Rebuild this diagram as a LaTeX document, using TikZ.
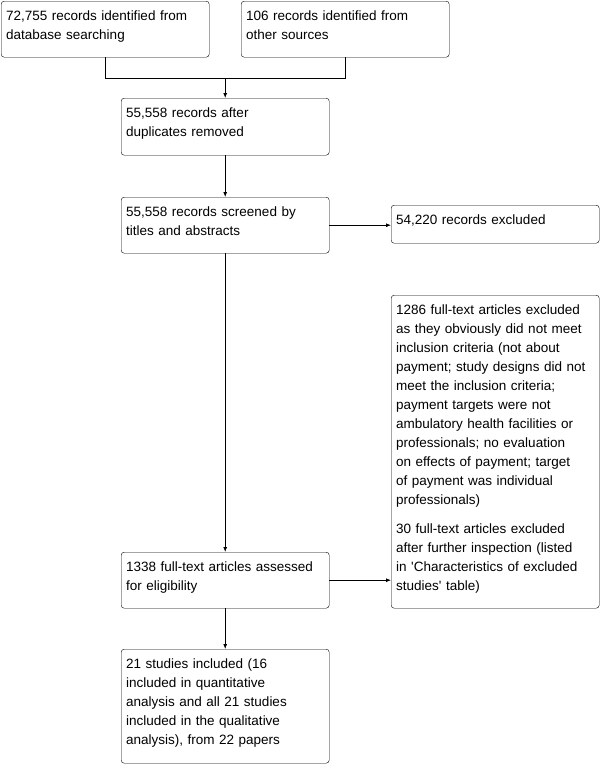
\documentclass[tikz,border=0pt]{standalone}
\usepackage{fontspec}
\setmainfont{Liberation Sans}
\usetikzlibrary{arrows.meta}

\begin{document}
\begin{tikzpicture}[
  x=1pt, y=-1pt,
  box/.style={draw, rounded corners=3pt, anchor=north west,
              text width=198pt, align=left, inner xsep=5pt, inner ysep=6pt,
              text height=13.5pt, font=\fontsize{13.5pt}{19pt}\selectfont},
  arr/.style={-{Latex[length=5pt,width=4pt]}, line width=0.8pt},
  line/.style={line width=0.8pt}
]
  \useasboundingbox (0,0) rectangle (602,764);

  % identification
  \node[box, text depth=30.5pt] (db) at (1,1)
    {72,755 records identified from\\database searching};
  \node[box, text depth=30.5pt] (other) at (241,1)
    {106 records identified from\\other sources};

  % screening
  \node[box, text depth=31.5pt] (dedup) at (121,98)
    {55,558 records after\\duplicates removed};
  \node[box, text depth=30.5pt] (screen) at (121,197)
    {55,558 records screened by\\titles and abstracts};
  \node[box, text depth=12.5pt] (excl) at (391,205)
    {54,220 records excluded};

  % eligibility
  \node[box, text depth=287.5pt] (fulltext) at (391,295)
    {1286 full-text articles excluded\\as they obviously did not meet\\inclusion criteria (not about\\payment; study designs did not\\meet the inclusion criteria;\\payment targets were not\\ambulatory health facilities or\\professionals; no evaluation\\on effects of payment; target\\of payment was individual\\professionals)\\[10pt]30 full-text articles excluded\\after further inspection (listed\\in \textquotesingle Characteristics of excluded\\studies\textquotesingle\ table)};
  \node[box, text depth=30.5pt] (elig) at (121,552)
    {1338 full-text articles assessed\\for eligibility};

  % included
  \node[box, text depth=88.5pt] (incl) at (121,649)
    {21 studies included (16\\included in quantitative\\analysis and all 21 studies\\included in the qualitative\\analysis), from 22 papers};

  \coordinate (join) at (dedup.north |- 0,78);
  \draw[line] (db.south) -- ++(0,21) -| (other.south);
  \draw[arr] (join) -- (dedup.north);
  \draw[arr] (dedup.south) -- (screen.north);
  \draw[arr] (screen.east) -- (screen.east -| excl.west);
  \draw[arr] (screen.south) -- (elig.north);
  \draw[arr] (elig.east) -- (elig.east -| fulltext.west);
  \draw[arr] (elig.south) -- (incl.north);
\end{tikzpicture}
\end{document}
